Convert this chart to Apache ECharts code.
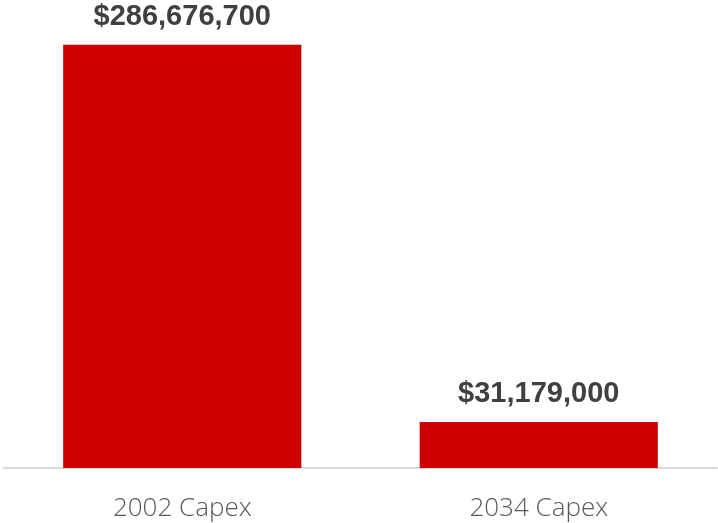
<!DOCTYPE html>
<html>
<head>
<meta charset="utf-8">
<script src="https://cdn.jsdelivr.net/npm/echarts@6/dist/echarts.min.js"></script>
<style>html,body{margin:0;padding:0;background:#fff}#c{width:718px;height:523px}</style>
</head>
<body>
<div id="c"></div>
<script>
const categories = ["2002 Capex", "2034 Capex"];
const capexValues = [286676700, 31179000];

const chart = echarts.init(document.getElementById('c'), null, {renderer: 'canvas'});
chart.setOption({
  animation: false,
  grid: {left: 4, right: 1, top: 25, bottom: 55, containLabel: false},
  xAxis: {
    type: 'category',
    data: categories,
    axisLine: {lineStyle: {color: '#d9d9d9', width: 2}},
    axisTick: {show: false},
    axisLabel: {fontFamily: 'Open Sans', fontWeight: 300, fontSize: 26, color: '#595959', margin: 28}
  },
  yAxis: {type: 'value', min: 0, max: 300000000, show: false, splitLine: {show: false}},
  series: [{
    type: 'bar',
    data: capexValues,
    barWidth: '66.8%',
    itemStyle: {color: '#cc0000'},
    label: {
      show: true, position: 'top', distance: 13,
      fontFamily: 'Liberation Sans', fontWeight: 'bold', fontSize: 29, color: '#404040',
      formatter: p => '$' + p.value.toLocaleString('en-US')
    }
  }]
});
</script>
</body>
</html>
